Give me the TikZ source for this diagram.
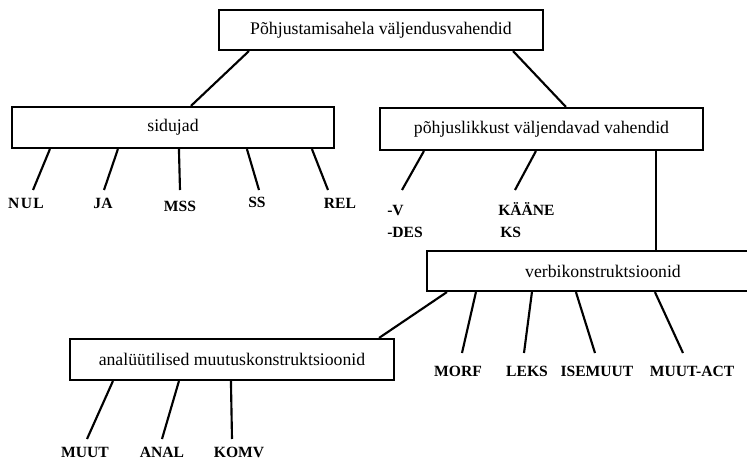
\documentclass[tikz,border=0pt]{standalone}
\usepackage{fontspec}
\setmainfont{Liberation Serif}
\usepackage{tikz}
\usetikzlibrary{shapes,calc}
\tikzstyle{box} = [draw, rectangle, line width=1.6pt, minimum height=30pt, inner sep=0pt, text centered, font=\fontsize{13.3}{16}\selectfont]
\tikzstyle{lbl} = [inner sep=0pt, anchor=base, font=\bfseries\fontsize{11.7}{14}\selectfont]
\tikzstyle{line} = [draw, line width=1.6pt]

\begin{document}
\begin{tikzpicture}[x=0.75pt, y=-0.75pt]
\useasboundingbox (0,0) rectangle (747,460);
\clip (0,0) rectangle (747,460);

% Place nodes
\node [box, minimum width=243pt] (top) at (381,30) {Põhjustamisahela väljendusvahendid};
\node [box, minimum width=241.5pt, minimum height=30.75pt] (sidujad) at (173,127.5) {sidujad};
\node [box, minimum width=242.25pt, minimum height=31.5pt] (pohj) at (541.5,129) {põhjuslikkust väljendavad vahendid};
\node [box, minimum width=264pt] (verbi) at (603,271) {verbikonstruktsioonid};
\node [box, minimum width=243pt, minimum height=30.75pt] (anal) at (232,359.5) {analüütilised muutuskonstruktsioonid};

% Place labels
\node [lbl] (nul) at (26,209) {N\kern1pt U\kern1pt L};
\node [lbl] (ja) at (103,209) {JA};
\node [lbl] (mss) at (180,211) {MSS};
\node [lbl] (ss) at (257,207) {SS};
\node [lbl] (rel) at (340,209) {REL};
\node [lbl, anchor=base west] (v) at (387,215) {-V};
\node [lbl, anchor=base west] (des) at (387,237) {-DES};
\node [lbl, anchor=base west] (kaane) at (498,215) {KÄÄNE};
\node [lbl, anchor=base west] (ks) at (500,237) {KS};
\node [lbl] (morf) at (458,376) {MORF};
\node [lbl] (leks) at (527,376) {LEKS};
\node [lbl] (isemuut) at (597,376) {ISEMUUT};
\node [lbl] (muutact) at (692,376) {MUUT-ACT};
\node [lbl] (muut) at (85,457) {MUUT};
\node [lbl] (analys) at (162,457) {ANAL};
\node [lbl] (komv) at (239,457) {KOMV};

% Place lines
\draw [line] ($(top.south west)+(31,0)$) -- ($(sidujad.north west)+(180,0)$);
\draw [line] ($(top.south east)+(-31,0)$) -- ($(pohj.north west)+(187,0)$);
\coordinate (pv) at ($(pohj.south west)+(277,0)$);
\draw [line] (pv) -- (pv |- verbi.north);
\draw [line] ($(verbi.south west)+(21,0)$) -- ($(anal.north east)+(-16,0)$);

\draw [line] ($(sidujad.south west)+(39,0)$) -- ($(nul.base)+(7,-19)$);
\draw [line] ($(sidujad.south west)+(107,0)$) -- ($(ja.base)+(1,-19)$);
\draw [line] ($(sidujad.south west)+(168,0)$) -- ($(mss.base)+(0,-21)$);
\draw [line] ($(sidujad.south west)+(236,0)$) -- ($(ss.base)+(2,-17)$);
\draw [line] ($(sidujad.south west)+(301,0)$) -- ($(rel.base)+(-12,-19)$);

\draw [line] ($(pohj.south west)+(45,0)$) -- ($(v.base west)+(15,-25)$);
\draw [line] ($(pohj.south west)+(157,0)$) -- ($(kaane.base west)+(17,-25)$);

\draw [line] ($(verbi.south west)+(50,0)$) -- ($(morf.base)+(4,-23)$);
\draw [line] ($(verbi.south west)+(106,0)$) -- ($(leks.base)+(-3,-23)$);
\draw [line] ($(verbi.south west)+(150,0)$) -- ($(isemuut.base)+(-2,-23)$);
\draw [line] ($(verbi.south west)+(229,0)$) -- ($(muutact.base)+(-9,-23)$);

\draw [line] ($(anal.south west)+(44,0)$) -- ($(muut.base)+(2,-18)$);
\draw [line] ($(anal.south west)+(110,0)$) -- ($(analys.base)+(0,-18)$);
\draw [line] ($(anal.south west)+(162,0)$) -- ($(komv.base)+(-7,-18)$);

\end{tikzpicture}
\end{document}
